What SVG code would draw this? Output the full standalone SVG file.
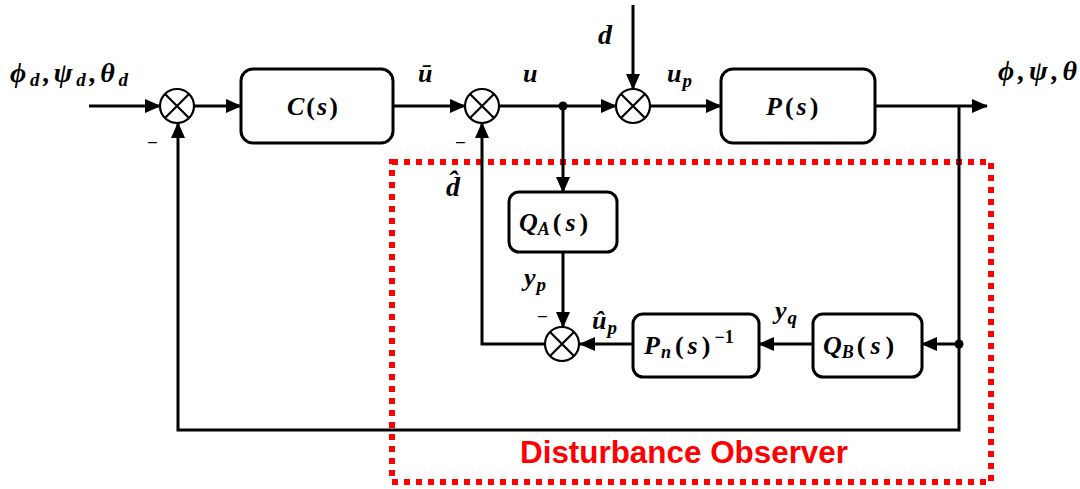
<svg xmlns="http://www.w3.org/2000/svg" width="1080" height="489" viewBox="0 0 1080 489">
<style>
.ln{fill:none;stroke:#000;stroke-width:3}
.box{fill:#fff;stroke:#000;stroke-width:3}
.sum{fill:#fff;stroke:#000;stroke-width:2.2}
.m{font-family:"Liberation Serif","DejaVu Serif",serif;font-weight:bold;font-style:italic;fill:#000}
.up{font-style:normal}
.minus{font-family:"Liberation Sans",sans-serif;font-size:16px;fill:#000}
.red{fill:none;stroke:#ff0000;stroke-width:6;stroke-dasharray:6 6}
.dob{font-family:"Liberation Sans","DejaVu Sans",sans-serif;font-weight:bold;font-size:31px;fill:#ff0000}
</style>
<defs>
<marker id="ah" markerUnits="userSpaceOnUse" markerWidth="16" markerHeight="14" refX="15" refY="7" orient="auto">
<path d="M0,0 L16,7 L0,14 z" fill="#000"/>
</marker>
<g id="sumshape">
<circle cx="0" cy="0" r="17" class="sum"/>
<path d="M-12,-12 L12,12 M12,-12 L-12,12" stroke="#000" stroke-width="2.2"/>
</g>
</defs>

<rect x="392" y="162" width="599" height="320" class="red"/>
<text class="dob" x="520" y="463" textLength="328" lengthAdjust="spacingAndGlyphs">Disturbance Observer</text>

<g id="connectors">
<path class="ln" d="M89,106 L160,106" marker-end="url(#ah)"/>
<path class="ln" d="M194,106 L241,106" marker-end="url(#ah)"/>
<path class="ln" d="M393,106 L465,106" marker-end="url(#ah)"/>
<path class="ln" d="M499,106 L616,106" marker-end="url(#ah)"/>
<path class="ln" d="M633,5 L633,89" marker-end="url(#ah)"/>
<path class="ln" d="M650,106 L721,106" marker-end="url(#ah)"/>
<path class="ln" d="M875,106 L987,106" marker-end="url(#ah)"/>
<path class="ln" d="M959,106 L959,430 L178,430 L178,123" marker-end="url(#ah)"/>
<path class="ln" d="M563,106 L563,192" marker-end="url(#ah)"/>
<path class="ln" d="M563,252 L563,327" marker-end="url(#ah)"/>
<path class="ln" d="M959,344 L922,344" marker-end="url(#ah)"/>
<path class="ln" d="M813,344 L759,344" marker-end="url(#ah)"/>
<path class="ln" d="M633,344 L580,344" marker-end="url(#ah)"/>
<path class="ln" d="M545,344 L482,344 L482,123" marker-end="url(#ah)"/>
<circle cx="563" cy="106" r="4.5" fill="#000"/>
<circle cx="959" cy="344" r="4.5" fill="#000"/>
</g>

<g id="sum1"><use href="#sumshape" x="177" y="106"/><text class="minus" x="148" y="147">–</text></g>
<g id="sum2"><use href="#sumshape" x="482" y="106"/><text class="minus" x="456" y="147">–</text></g>
<g id="sum3"><use href="#sumshape" x="633" y="106"/></g>
<g id="sum4"><use href="#sumshape" x="562" y="344"/><text class="minus" x="538" y="321">–</text></g>

<g id="C">
<rect x="241" y="69" width="152" height="74" rx="12" class="box"/>
<text class="m" x="287" y="115" font-size="26">C<tspan class="up" dx="2">(</tspan><tspan dx="2">s</tspan><tspan class="up" dx="2">)</tspan></text>
</g>
<g id="P">
<rect x="721" y="69" width="154" height="74" rx="12" class="box"/>
<text class="m" x="766" y="115" font-size="26">P<tspan class="up" dx="3">(</tspan><tspan dx="3">s</tspan><tspan class="up" dx="3">)</tspan></text>
</g>
<g id="QA">
<rect x="509" y="192" width="108" height="60" rx="10" class="box"/>
<text class="m" x="519" y="231" font-size="26">Q<tspan font-size="18" dy="4">A</tspan><tspan class="up" dy="-4" dx="3">(</tspan><tspan dx="4">s</tspan><tspan class="up" dx="4">)</tspan></text>
</g>
<g id="Pn">
<rect x="633" y="314" width="126" height="63" rx="10" class="box"/>
<text class="m" x="644" y="354" font-size="26">P<tspan font-size="18" dy="4" dx="1">n</tspan><tspan class="up" dy="-4" dx="4">(</tspan><tspan dx="4">s</tspan><tspan class="up" dx="4">)</tspan><tspan font-size="18" dy="-11" dx="4" class="up">−1</tspan></text>
</g>
<g id="QB">
<rect x="813" y="314" width="109" height="63" rx="10" class="box"/>
<text class="m" x="823" y="354" font-size="26">Q<tspan font-size="18" dy="4">B</tspan><tspan class="up" dy="-4" dx="3">(</tspan><tspan dx="5">s</tspan><tspan class="up" dx="5">)</tspan></text>
</g>

<g id="labels">
<text class="m" x="10" y="82" font-size="28" textLength="118">ϕ<tspan font-size="19" dy="4">d</tspan><tspan dy="-4">,ψ</tspan><tspan font-size="19" dy="4">d</tspan><tspan dy="-4">,θ</tspan><tspan font-size="19" dy="4">d</tspan></text>
<text class="m" x="418" y="82" font-size="26">ū</text>
<text class="m" x="523" y="82" font-size="26">u</text>
<text class="m" x="667" y="82" font-size="26">u<tspan font-size="19" dy="5" dx="1">p</tspan></text>
<text class="m" x="598" y="44" font-size="28">d</text>
<text class="m" x="998" y="80" font-size="28" textLength="79">ϕ,ψ,θ</text>
<text class="m" x="446" y="196" font-size="28">d̂</text>
<text class="m" x="524" y="286" font-size="26">y<tspan font-size="19" dy="5" dx="1">p</tspan></text>
<text class="m" x="592" y="329" font-size="26">û<tspan font-size="19" dy="5" dx="1">p</tspan></text>
<text class="m" x="775" y="319" font-size="26">y<tspan font-size="19" dy="5" dx="1">q</tspan></text>
</g>
</svg>
